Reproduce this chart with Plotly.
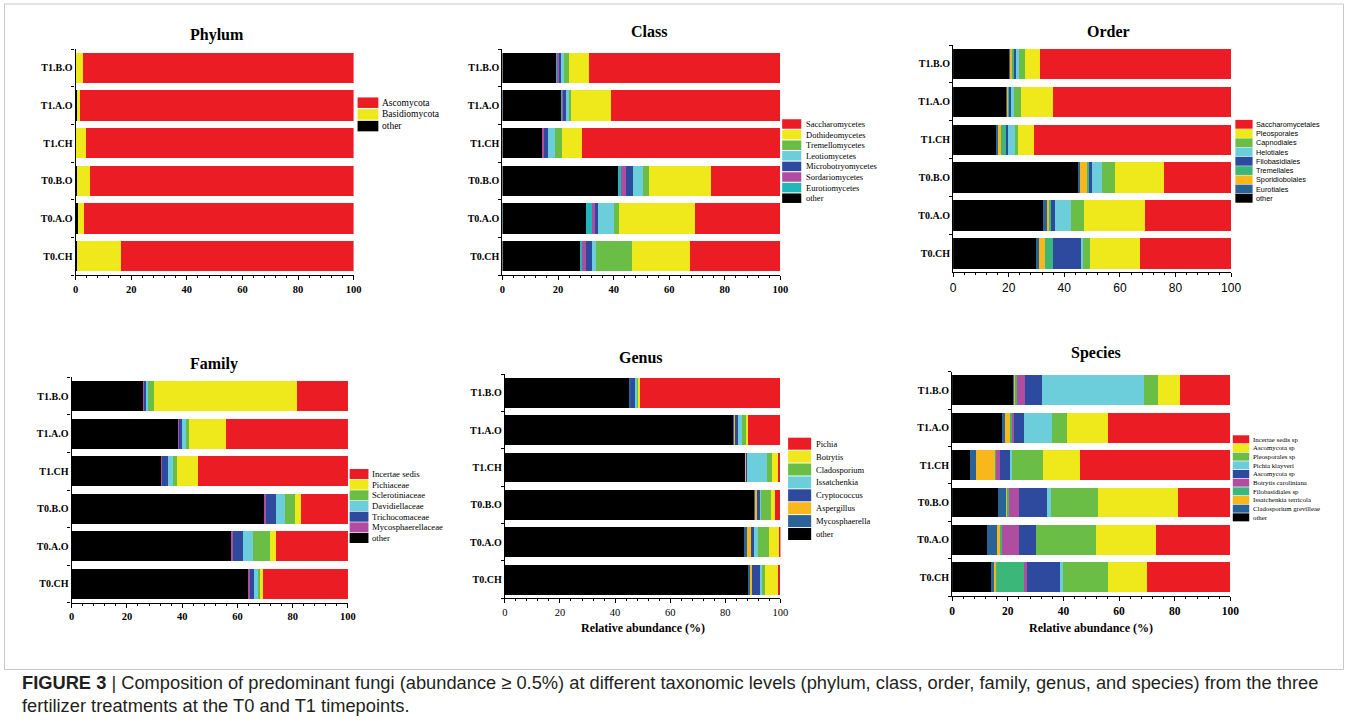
import plotly.graph_objects as go

W, H = 1355, 726

# Samples, listed bottom-to-top as they appear on every y axis
SAMPLES = ["T0.CH", "T0.A.O", "T0.B.O", "T1.CH", "T1.A.O", "T1.B.O"]

# Relative abundance (%) per taxon; columns follow SAMPLES
PHYLUM_TAXA = ["Ascomycota", "Basidiomycota", "other"]
PHYLUM_PCT = [
    [83.8, 97.0, 94.7, 96.2, 98.5, 97.4],
    [15.8, 2.3, 4.7, 3.6, 0.9, 2.4],
    [0.4, 0.7, 0.6, 0.2, 0.6, 0.2],
]

CLASS_TAXA = ["Saccharomycetes", "Dothideomycetes", "Tremellomycetes", "Leotiomycetes",
              "Microbotryomycetes", "Sordariomycetes", "Eurotiomycetes", "other"]
CLASS_PCT = [
    [32.7, 30.9, 25.0, 71.3, 61.0, 68.8],
    [20.6, 27.1, 22.4, 7.3, 14.2, 7.3],
    [13.2, 2.0, 2.1, 2.6, 0.8, 1.9],
    [1.2, 5.7, 3.7, 2.4, 1.2, 0.8],
    [2.4, 0.6, 2.4, 1.6, 0.7, 1.0],
    [1.2, 1.6, 1.9, 0.3, 0.2, 0.3],
    [0.4, 1.9, 0.7, 0.0, 0.4, 0.3],
    [28.3, 30.2, 41.8, 14.5, 21.5, 19.6],
]

ORDER_TAXA = ["Saccharomycetales", "Pleosporales", "Capnodiales", "Helotiales", "Filobasidiales",
              "Tremellales", "Sporidiobolales", "Eurotiales", "other"]
ORDER_PCT = [
    [32.7, 31.0, 24.2, 70.9, 64.0, 68.8],
    [18.0, 22.0, 17.7, 5.9, 11.4, 5.5],
    [2.4, 4.6, 4.4, 1.0, 2.6, 1.9],
    [0.7, 5.9, 3.8, 2.4, 1.2, 1.0],
    [10.2, 1.2, 1.0, 0.7, 0.3, 0.7],
    [2.9, 0.6, 0.8, 1.8, 0.5, 0.7],
    [2.3, 0.6, 2.4, 1.3, 0.3, 0.8],
    [0.8, 1.6, 0.7, 0.2, 0.4, 0.3],
    [30.0, 32.5, 45.0, 15.8, 19.3, 20.3],
]

FAMILY_TAXA = ["Incertae sedis", "Pichiaceae", "Sclerotiniaceae", "Davidiellaceae",
               "Trichocomaceae", "Mycosphaerellaceae", "other"]
FAMILY_PCT = [
    [30.7, 26.0, 17.1, 54.2, 44.2, 18.6],
    [1.0, 2.3, 2.1, 7.6, 13.4, 51.5],
    [0.9, 6.0, 3.7, 1.5, 1.1, 2.4],
    [1.4, 3.6, 3.1, 1.9, 1.2, 0.5],
    [1.5, 3.6, 3.5, 2.2, 1.4, 0.7],
    [0.6, 0.8, 0.8, 0.3, 0.3, 0.5],
    [63.9, 57.7, 69.7, 32.3, 38.4, 25.8],
]

GENUS_TAXA = ["Pichia", "Botrytis", "Cladosporium", "Issatchenkia", "Cryptococcus",
              "Aspergillus", "Mycosphaerella", "other"]
GENUS_PCT = [
    [0.7, 0.4, 2.0, 0.7, 11.6, 50.9],
    [5.0, 3.8, 1.4, 2.3, 1.0, 0.5],
    [1.1, 3.8, 3.5, 2.0, 1.2, 0.5],
    [0.4, 1.6, 0.4, 7.0, 1.6, 0.7],
    [3.2, 1.2, 1.2, 0.4, 1.1, 1.7],
    [0.7, 1.5, 0.7, 0.3, 0.3, 0.0],
    [0.6, 1.0, 0.4, 0.2, 0.3, 0.4],
    [88.3, 86.7, 90.4, 87.1, 82.9, 45.3],
]

SPECIES_TAXA = ["Incertae sedis sp", "Ascomycota sp", "Pleosporales sp", "Pichia klayveri",
                "Ascomycota sp", "Botrytis caroliniana", "Filobasidiales sp",
                "Issatchenkia terricola", "Cladosporium grevilleae", "other"]
SPECIES_PCT = [
    [30.0, 26.6, 18.7, 54.1, 43.9, 18.1],
    [13.9, 21.8, 28.7, 13.3, 14.9, 7.8],
    [16.4, 21.3, 17.0, 11.2, 5.4, 5.3],
    [0.6, 0.1, 1.4, 0.5, 9.9, 36.5],
    [12.1, 6.1, 10.0, 3.8, 3.7, 6.2],
    [1.1, 6.1, 3.6, 1.4, 0.8, 2.8],
    [10.2, 0.4, 0.6, 0.1, 0.5, 0.5],
    [0.5, 1.6, 0.3, 6.9, 1.9, 0.5],
    [1.2, 3.5, 3.1, 2.1, 1.2, 0.3],
    [14.0, 12.5, 16.6, 6.6, 17.8, 22.0],
]

X_TICKS = [0, 20, 40, 60, 80, 100]

# Palette
RED, YELLOW, GREEN, CYAN = "#EC1C24", "#EFE81A", "#6ABD45", "#6DCEDB"
BLUE, MAGENTA, TEAL, SEAGREEN = "#2E4A9F", "#B04DA0", "#22B6BA", "#3BB77A"
ORANGE, STEEL, BLACK = "#F8B81B", "#2A6398", "#000000"

SERIF = "Liberation Serif, Times New Roman, serif"
SANS = "Liberation Sans, Arial, sans-serif"


def fx(px):
    return px / W


def fy(py):
    return 1 - py / H


panels = [
    dict(title="Phylum", taxa=PHYLUM_TAXA, pct=PHYLUM_PCT, colors=[RED, YELLOW, BLACK],
         box=(73.3, 354.0, 49.0, 275.0), title_xy=(216, 35),
         xfont=dict(family=SERIF, size=10.5, weight="bold", color="black"),
         leg=dict(x0=358, x1=379, h=10.5, step=11.7, y0=102.7, tx=381,
                  font=dict(family=SERIF, size=9.5, color="black"))),
    dict(title="Class", taxa=CLASS_TAXA, pct=CLASS_PCT,
         colors=[RED, YELLOW, GREEN, CYAN, BLUE, MAGENTA, TEAL, BLACK],
         box=(504.3, 785.0, 49.0, 275.0), title_xy=(652, 31),
         xfont=dict(family=SERIF, size=10.5, weight="bold", color="black"),
         leg=dict(x0=786.7, x1=806, h=9.5, step=10.6, y0=124, tx=809,
                  font=dict(family=SERIF, size=8.5, color="black"))),
    dict(title="Order", taxa=ORDER_TAXA, pct=ORDER_PCT,
         colors=[RED, YELLOW, GREEN, CYAN, BLUE, SEAGREEN, ORANGE, STEEL, BLACK],
         box=(959.3, 1240.0, 45.0, 272.3), title_xy=(1116, 31.7),
         xfont=dict(family=SANS, size=12, color="black"),
         leg=dict(x0=1244.3, x1=1261.7, h=8.8, step=9.25, y0=124.3, tx=1263.3,
                  font=dict(family=SANS, size=7.3, color="black"))),
    dict(title="Family", taxa=FAMILY_TAXA, pct=FAMILY_PCT,
         colors=[RED, YELLOW, GREEN, CYAN, BLUE, MAGENTA, BLACK],
         box=(69.3, 348.3, 377.3, 602.7), title_xy=(213, 364),
         xfont=dict(family=SERIF, size=10.5, weight="bold", color="black"),
         leg=dict(x0=350, x1=369, h=10, step=10.67, y0=474, tx=371,
                  font=dict(family=SERIF, size=8.7, color="black"))),
    dict(title="Genus", taxa=GENUS_TAXA, pct=GENUS_PCT,
         colors=[RED, YELLOW, GREEN, CYAN, BLUE, ORANGE, STEEL, BLACK],
         box=(506.7, 785.0, 374.0, 598.3), title_xy=(644, 357.3),
         xfont=dict(family=SERIF, size=10.5, color="black"),
         xlabel=(646, 628.3),
         leg=dict(x0=792.7, x1=816, h=12, step=12.9, y0=443.7, tx=819,
                  font=dict(family=SERIF, size=8.5, color="black"))),
    dict(title="Species", taxa=SPECIES_TAXA, pct=SPECIES_PCT,
         colors=[RED, YELLOW, GREEN, CYAN, BLUE, MAGENTA, SEAGREEN, ORANGE, STEEL, BLACK],
         box=(958.3, 1239.3, 371.7, 596.0), title_xy=(1104, 353.3),
         xfont=dict(family=SERIF, size=11.5, weight="bold", color="black"),
         xlabel=(1099, 628.3),
         leg=dict(x0=1241.7, x1=1258.3, h=8, step=8.67, y0=439.3, tx=1260,
                  font=dict(family=SERIF, size=6.8, color="black"))),
]

fig = go.Figure()
shapes, annotations = [], []
layout_axes = {}

for i, p in enumerate(panels, start=1):
    sfx = "" if i == 1 else str(i)
    xa, ya = "x" + sfx, "y" + sfx
    x0, x1, ytop, ybot = p["box"]

    # stacked from the left: last legend entry ("other") first
    for name, vals, col in reversed(list(zip(p["taxa"], p["pct"], p["colors"]))):
        fig.add_trace(go.Bar(
            y=SAMPLES, x=vals, name=name, orientation="h",
            marker=dict(color=col, line=dict(width=0)),
            xaxis=xa, yaxis=ya, showlegend=False,
            hovertemplate=name + ": %{x:.1f}%<extra>%{y}</extra>",
        ))

    layout_axes["xaxis" + sfx] = dict(
        domain=[fx(x0), fx(x1)], anchor=ya, range=[0, 100],
        tickmode="array", tickvals=X_TICKS, ticks="outside", ticklen=4, tickwidth=1.2,
        tickcolor="black", tickfont=p["xfont"],
        minor=dict(dtick=4, tick0=0, ticks="outside", ticklen=2, tickwidth=1, tickcolor="black",
                   showgrid=False),
        showline=True, linecolor="black", linewidth=1.3,
        showgrid=False, zeroline=False, fixedrange=True,
    )
    layout_axes["yaxis" + sfx] = dict(
        domain=[fy(ybot), fy(ytop)], anchor=xa, type="category",
        categoryorder="array", categoryarray=SAMPLES, range=[-0.5, 5.5],
        ticks="outside", tickson="boundaries", ticklen=3, tickwidth=1.2, tickcolor="black",
        tickfont=dict(family=SERIF, size=10, weight="bold", color="black"),
        showline=True, linecolor="black", linewidth=1.3,
        showgrid=False, zeroline=False, fixedrange=True,
    )

    tx, ty = p["title_xy"]
    annotations.append(dict(
        text=p["title"], x=fx(tx), y=fy(ty), xref="paper", yref="paper",
        xanchor="center", yanchor="middle", showarrow=False,
        font=dict(family=SERIF, size=16, weight="bold", color="black"),
    ))
    if "xlabel" in p:
        lx, ly = p["xlabel"]
        annotations.append(dict(
            text="Relative abundance (%)", x=fx(lx), y=fy(ly), xref="paper", yref="paper",
            xanchor="center", yanchor="middle", showarrow=False,
            font=dict(family=SERIF, size=12, weight="bold", color="black"),
        ))

    lg = p["leg"]
    for k, (name, col) in enumerate(zip(p["taxa"], p["colors"])):
        cy = lg["y0"] + k * lg["step"]
        shapes.append(dict(
            type="rect", xref="paper", yref="paper",
            x0=fx(lg["x0"]), x1=fx(lg["x1"]),
            y0=fy(cy + lg["h"] / 2), y1=fy(cy - lg["h"] / 2),
            fillcolor=col, line=dict(width=0),
        ))
        annotations.append(dict(
            text=name, x=fx(lg["tx"]), y=fy(cy), xref="paper", yref="paper",
            xanchor="left", yanchor="middle", showarrow=False, font=lg["font"],
        ))

# thin frame around the figure panel
shapes.append(dict(
    type="rect", xref="paper", yref="paper",
    x0=fx(1.5), x1=fx(1353.5), y0=fy(669.5), y1=fy(4),
    line=dict(color="#c8c8c8", width=1), fillcolor="rgba(0,0,0,0)",
))

CAPTION_1 = ("<b>FIGURE 3</b> | Composition of predominant fungi (abundance ≥ 0.5%) at different "
             "taxonomic levels (phylum, class, order, family, genus, and species) from the three")
CAPTION_2 = "fertilizer treatments at the T0 and T1 timepoints."
for txt, yy in [(CAPTION_1, 682), (CAPTION_2, 705)]:
    annotations.append(dict(
        text=txt, x=fx(17), y=fy(yy), xref="paper", yref="paper",
        xanchor="left", yanchor="middle", showarrow=False,
        font=dict(family=SANS, size=18.3, color="#231F20"),
    ))

fig.update_layout(
    width=W, height=H, margin=dict(l=0, r=0, t=0, b=0),
    paper_bgcolor="white", plot_bgcolor="white",
    barmode="stack", bargap=0.2, showlegend=False,
    shapes=shapes, annotations=annotations,
    **layout_axes,
)

fig.write_html("out.html", config={"displayModeBar": False})
